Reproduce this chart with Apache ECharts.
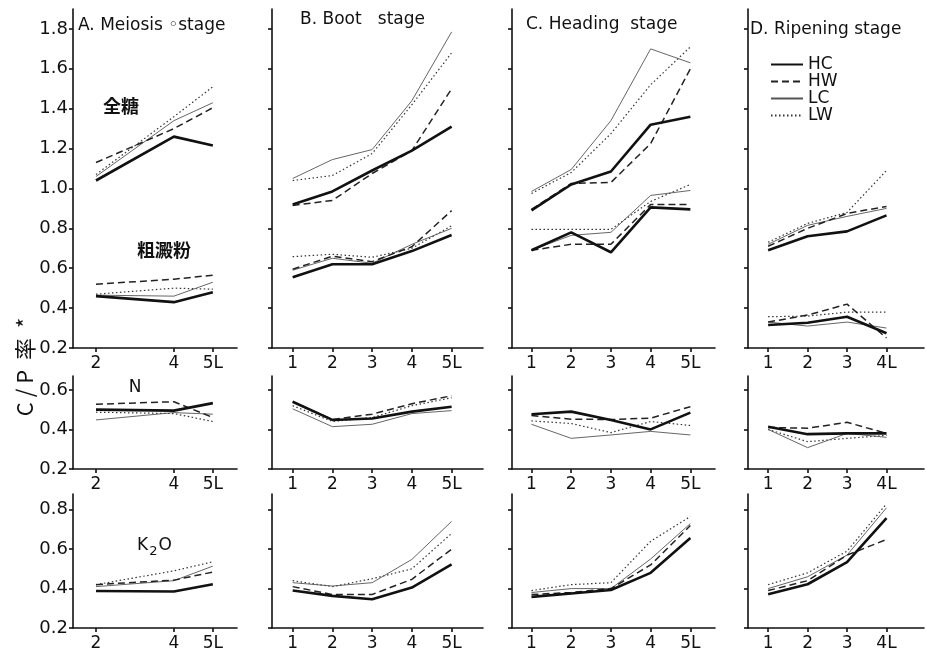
<!DOCTYPE html>
<html><head><meta charset="utf-8">
<script src="https://cdn.jsdelivr.net/npm/echarts@6/dist/echarts.min.js"></script>
<style>html,body{margin:0;padding:0;background:#fff}#c{width:926px;height:652px}</style>
</head><body><div id="c"></div>
<script>
// ---- data ----
const seriesNames = ['HC', 'HW', 'LC', 'LW'];
const xA = [2, 4, 5];
const xB = [1, 2, 3, 4, 5];
const xC = [1, 2, 3, 4, 5];
const xD = [1, 2, 3, 4];
const yTicksTop = [0.2, 0.4, 0.6, 0.8, 1.0, 1.2, 1.4, 1.6, 1.8];
const yTicksN = [0.2, 0.4, 0.6];
const yTicksK = [0.2, 0.4, 0.6, 0.8];
const stageTitles = ['A. Meiosis \u25E6stage', 'B. Boot   stage', 'C. Heading  stage', 'D. Ripening stage'];

// 全糖 (order: HC, HW, LC, LW)
const sugarA = [[1.04, 1.26, 1.215], [1.13, 1.30, 1.405], [1.06, 1.34, 1.43], [1.07, 1.36, 1.51]];
const sugarB = [[0.92, 0.985, 1.09, 1.19, 1.31], [0.915, 0.94, 1.075, 1.19, 1.50], [1.05, 1.145, 1.195, 1.44, 1.785], [1.04, 1.065, 1.175, 1.42, 1.68]];
const sugarC = [[0.89, 1.02, 1.085, 1.32, 1.36], [0.895, 1.025, 1.03, 1.225, 1.60], [0.985, 1.095, 1.34, 1.70, 1.63], [0.975, 1.08, 1.275, 1.52, 1.71]];
const sugarD = [[0.69, 0.76, 0.785, 0.865], [0.71, 0.80, 0.875, 0.91], [0.72, 0.815, 0.86, 0.90], [0.73, 0.825, 0.88, 1.09]];
// 粗澱粉
const starchA = [[0.46, 0.43, 0.48], [0.52, 0.545, 0.565], [0.465, 0.46, 0.53], [0.47, 0.50, 0.495]];
const starchB = [[0.555, 0.62, 0.62, 0.686, 0.767], [0.595, 0.66, 0.633, 0.708, 0.889], [0.59, 0.65, 0.625, 0.72, 0.80], [0.658, 0.67, 0.655, 0.70, 0.813]];
const starchC = [[0.69, 0.78, 0.68, 0.905, 0.895], [0.69, 0.72, 0.72, 0.92, 0.92], [0.69, 0.765, 0.78, 0.965, 0.99], [0.795, 0.795, 0.795, 0.935, 1.02]];
const starchD = [[0.315, 0.327, 0.357, 0.274], [0.33, 0.365, 0.42, 0.25], [0.33, 0.31, 0.33, 0.30], [0.357, 0.36, 0.38, 0.38]];
// N
const nA = [[0.50, 0.495, 0.533], [0.527, 0.54, 0.46], [0.448, 0.485, 0.477], [0.487, 0.48, 0.44]];
const nB = [[0.54, 0.448, 0.455, 0.49, 0.515], [0.54, 0.45, 0.477, 0.53, 0.57], [0.504, 0.414, 0.426, 0.48, 0.495], [0.52, 0.44, 0.46, 0.52, 0.56]];
const nC = [[0.477, 0.49, 0.448, 0.40, 0.485], [0.47, 0.452, 0.45, 0.457, 0.515], [0.426, 0.355, 0.372, 0.39, 0.372], [0.443, 0.43, 0.384, 0.44, 0.42]];
const nD = [[0.414, 0.376, 0.38, 0.38], [0.41, 0.406, 0.436, 0.38], [0.40, 0.308, 0.38, 0.36], [0.40, 0.338, 0.355, 0.37]];
// K2O
const kA = [[0.388, 0.385, 0.422], [0.42, 0.443, 0.484], [0.41, 0.44, 0.514], [0.42, 0.49, 0.536]];
const kB = [[0.39, 0.363, 0.346, 0.405, 0.523], [0.41, 0.37, 0.37, 0.447, 0.60], [0.43, 0.413, 0.43, 0.548, 0.741], [0.44, 0.41, 0.45, 0.50, 0.68]];
const kC = [[0.358, 0.375, 0.393, 0.48, 0.657], [0.37, 0.38, 0.40, 0.52, 0.72], [0.38, 0.40, 0.40, 0.55, 0.73], [0.39, 0.42, 0.43, 0.64, 0.766]];
const kD = [[0.371, 0.422, 0.534, 0.758], [0.39, 0.44, 0.57, 0.649], [0.40, 0.46, 0.57, 0.81], [0.42, 0.48, 0.59, 0.83]];

// ---- layout / styles ----
const FONT = '"DejaVu Sans", "Liberation Sans", sans-serif';
const CJK = '"Noto Sans CJK JP", "Noto Sans CJK SC", sans-serif';
const cols = [
  { left: 73, width: 164, min: 1.41, max: 5.62, xs: xA },
  { left: 272, width: 211, min: 0.48, max: 5.79, xs: xB },
  { left: 512, width: 203, min: 0.51, max: 5.62, xs: xC },
  { left: 748, width: 176, min: 0.49, max: 4.95, xs: xD }
];
const rows = [
  { top: 9, height: 339, min: 0.2, max: 1.9, ticks: yTicksTop, groups: [[sugarA, sugarB, sugarC, sugarD], [starchA, starchB, starchC, starchD]] },
  { top: 376, height: 93, min: 0.2, max: 0.67, ticks: yTicksN, groups: [[nA, nB, nC, nD]] },
  { top: 494, height: 135, min: 0.2, max: 0.88, ticks: yTicksK, groups: [[kA, kB, kC, kD]] }
];
const lineStyles = [
  { color: '#111', width: 2.6, type: 'solid' },
  { color: '#222', width: 1.5, type: [7, 4] },
  { color: '#555', width: 0.9, type: 'solid' },
  { color: '#333', width: 1.2, type: [1.5, 2.5] }
];
const axisLineStyle = { color: '#111', width: 1.6 };

const grid = [], xAxis = [], yAxis = [], series = [];
rows.forEach((r, ri) => {
  cols.forEach((c, ci) => {
    const g = ri * 4 + ci;
    grid.push({ left: c.left, width: c.width, top: r.top, height: r.height, containLabel: false });
    const xs = c.xs;
    xAxis.push({
      type: 'value', gridIndex: g, min: c.min, max: c.max,
      axisLine: { show: true, onZero: false, lineStyle: axisLineStyle },
      axisTick: { show: true, customValues: xs, length: 4, lineStyle: axisLineStyle },
      axisLabel: {
        show: true, customValues: xs, margin: 7, fontSize: 17, color: '#111', fontFamily: FONT,
        formatter: v => (v === xs[xs.length - 1] ? v + 'L' : String(v))
      },
      splitLine: { show: false }
    });
    yAxis.push({
      type: 'value', gridIndex: g, min: r.min, max: r.max,
      axisLine: { show: true, onZero: false, lineStyle: axisLineStyle },
      axisTick: { show: true, customValues: r.ticks, length: 4, lineStyle: axisLineStyle },
      axisLabel: {
        show: ci === 0, customValues: r.ticks, margin: 5, fontSize: 18, color: '#111', fontFamily: FONT,
        formatter: v => v.toFixed(1)
      },
      splitLine: { show: false }
    });
    r.groups.forEach(grp => {
      const sets = grp[ci];
      sets.forEach((vals, k) => {
        series.push({
          type: 'line', name: seriesNames[k], xAxisIndex: g, yAxisIndex: g,
          data: xs.map((x, i) => [x, vals[i]]),
          symbol: 'none', showSymbol: false, silent: true,
          lineStyle: lineStyles[k], itemStyle: { color: lineStyles[k].color },
          z: 10 - k
        });
      });
    });
  });
});

const titleY = [26, 20, 25, 30];
const titleX = [78, 300, 526, 750];
const graphic = stageTitles.map((t, i) => ({
  type: 'text', x: titleX[i], y: titleY[i],
  style: { text: t, fontSize: 17, fill: '#111', fontFamily: FONT, textAlign: 'left', textVerticalAlign: 'middle' }
}));
graphic.push(
  { type: 'text', x: 121, y: 106, style: { text: '全糖', fontSize: 18, fontWeight: 'bold', fill: '#111', fontFamily: CJK, textAlign: 'center', textVerticalAlign: 'middle' } },
  { type: 'text', x: 164, y: 250, style: { text: '粗澱粉', fontSize: 18, fontWeight: 'bold', fill: '#111', fontFamily: CJK, textAlign: 'center', textVerticalAlign: 'middle' } },
  { type: 'text', x: 135, y: 388, style: { text: 'N', fontSize: 17, fill: '#111', fontFamily: FONT, textAlign: 'center', textVerticalAlign: 'middle' } },
  { type: 'text', x: 137, y: 546, style: { text: 'K{s|2}O', fontSize: 17, fill: '#111', fontFamily: FONT, textAlign: 'left', textVerticalAlign: 'middle',
      rich: { s: { fontSize: 13, fontFamily: FONT, fill: '#111', padding: [12, 1, 0, 1] } } } },
  { type: 'text', x: 25, y: 367, rotation: Math.PI / 2,
    style: { text: 'C / P  率  *', fontSize: 22, fill: '#111', fontFamily: CJK, textAlign: 'center', textVerticalAlign: 'middle' } }
);

const chart = echarts.init(document.getElementById('c'), null, { renderer: 'canvas' });
chart.setOption({
  animation: false,
  backgroundColor: '#fff',
  grid, xAxis, yAxis, series, graphic,
  legend: {
    data: seriesNames, orient: 'vertical', left: 765, top: 51,
    itemWidth: 32, itemHeight: 10, itemGap: 0,
    itemStyle: { opacity: 0 },
    textStyle: { fontSize: 17, lineHeight: 15, color: '#111', fontFamily: FONT },
    selectedMode: false
  }
});
</script></body></html>
